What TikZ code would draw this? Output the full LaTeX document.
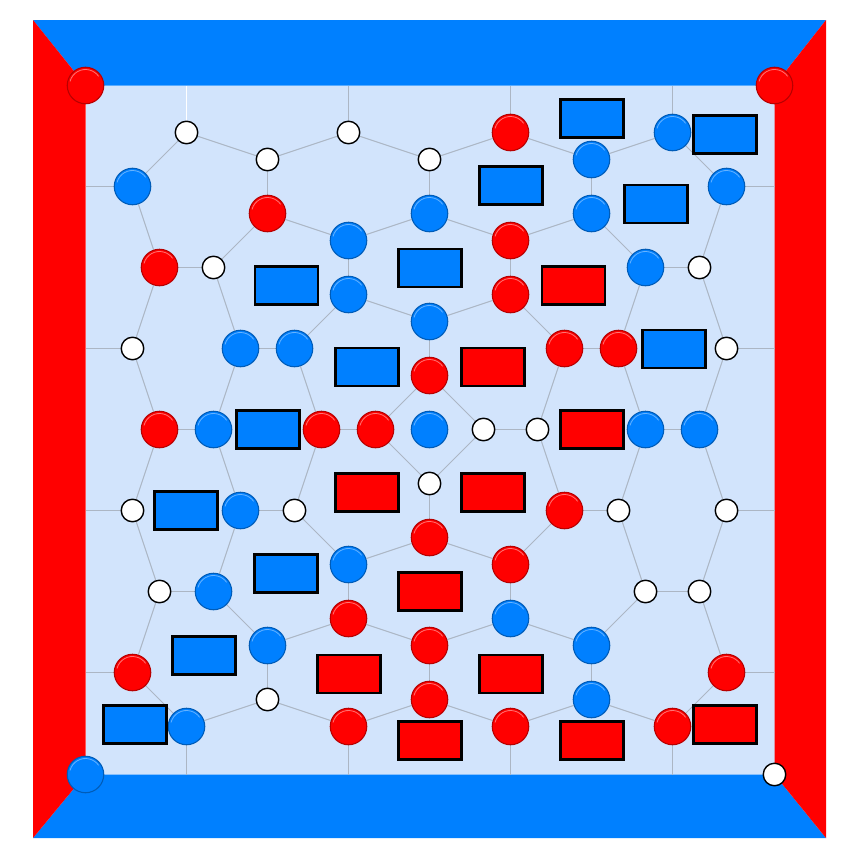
\documentclass[tikz,border=0pt]{standalone}
\usetikzlibrary{backgrounds}
\definecolor{myblue}{RGB}{0,128,255}
\definecolor{myred}{RGB}{255,0,0}
\definecolor{bgblue}{RGB}{210,228,252}
\definecolor{edgegray}{RGB}{172,182,196}
\begin{document}
\begin{tikzpicture}[x=1pt,y=-1pt,
  edge/.style={draw=edgegray,line width=1pt},
  wedge/.style={draw=white,line width=1.3pt},
  rn/.style={circle,minimum size=36.5pt,inner sep=0pt,fill=myred,draw=myred!72!black,line width=1.1pt,
    path picture={\draw[white!45!myred,line width=0.8pt] (path picture bounding box.center) ++(165:16pt) arc[start angle=165,end angle=35,radius=16pt];}},
  bn/.style={circle,minimum size=36.5pt,inner sep=0pt,fill=myblue,draw=myblue!72!black,line width=1.1pt,
    path picture={\draw[white!40!myblue,line width=0.8pt] (path picture bounding box.center) ++(165:16pt) arc[start angle=165,end angle=35,radius=16pt];}},
  wn/.style={circle,minimum size=22.5pt,inner sep=0pt,fill=white,draw=black,line width=1.4pt},
  brect/.style={rectangle,minimum width=63pt,minimum height=38pt,inner sep=0pt,fill=myblue,draw=black,line width=2.8pt},
  rrect/.style={rectangle,minimum width=63pt,minimum height=38pt,inner sep=0pt,fill=myred,draw=black,line width=2.8pt}]
\useasboundingbox (0,0) rectangle (862,862);
% frame
\begin{scope}[on background layer]
\fill[bgblue] (85.5,85.5) rectangle (774.5,774.5);
\fill[myblue] (33,20) -- (826,20) -- (774.5,85.5) -- (85.5,85.5) -- cycle;
\fill[myblue] (33,838) -- (826,838) -- (774.5,774.5) -- (85.5,774.5) -- cycle;
\fill[myred] (33,20) -- (85.5,85.5) -- (85.5,774.5) -- (33,838) -- cycle;
\fill[myred] (826,20) -- (774.5,85.5) -- (774.5,774.5) -- (826,838) -- cycle;
\end{scope}
% lattice nodes
\begin{scope}[shift={(429.5,429.5)},x=27pt,y=-27pt]
\foreach \i/\j in {-9/-11,-3/-11,-6/-10,0/-10,-8/-6,10/-6,-11/-3,11/-3,2/0,4/0,0/2,-11/3,-5/3,7/3,11/3,-10/6,8/6,10/6,-6/10}
  \node[wn] (n\i_\j) at (\i,\j) {};
\foreach \i/\j in {3/-11,-6/-8,3/-7,-10/-6,3/-5,5/-3,7/-3,0/-2,-10/0,-4/0,-2/0,0/4,5/3,3/5,-3/7,0/8,-11/9,11/9,0/10,-3/11,3/11,9/11}
  \node[rn] (n\i_\j) at (\i,\j) {};
\foreach \i/\j in {9/-11,6/-10,-11/-9,11/-9,0/-8,6/-8,-3/-7,8/-6,-3/-5,0/-4,-7/-3,-5/-3,-8/0,0/0,8/0,10/0,-7/3,-3/5,-8/6,3/7,-6/8,6/8,6/10,-9/11}
  \node[bn] (n\i_\j) at (\i,\j) {};
% border points
\foreach \k in {-9,-3,3,9} {
  \coordinate (top\k) at (\k,-12.74);
  \coordinate (bot\k) at (\k,12.78);
  \coordinate (lft\k) at (-12.74,\k);
  \coordinate (rgt\k) at (12.78,\k);
}
\end{scope}
% corner circles
\node[rn] (cTL) at (85.5,85.5) {};
\node[rn] (cTR) at (774.5,85.5) {};
\node[bn] (cBL) at (85.5,774.5) {};
\node[wn] (cBR) at (774.5,774.5) {};
% edges
\begin{scope}[on background layer]
\foreach \a/\b in {-9_-11/-6_-10,-9_-11/-11_-9,-11_-9/-10_-6,-10_-6/-8_-6,-8_-6/-6_-8,-6_-8/-6_-10,
  -6_-10/-3_-11,-6_-8/-3_-7,-8_-6/-7_-3,-10_-6/-11_-3,-3_-11/0_-10,0_-10/3_-11,0_-10/0_-8,
  3_-11/6_-10,0_-8/-3_-7,0_-8/3_-7,-3_-7/-3_-5,3_-7/3_-5,3_-7/6_-8,-3_-5/0_-4,3_-5/0_-4,
  -3_-5/-5_-3,3_-5/5_-3,6_-10/9_-11,6_-10/6_-8,9_-11/11_-9,6_-8/8_-6,8_-6/10_-6,10_-6/11_-9,
  8_-6/7_-3,10_-6/11_-3,-11_-3/-10_0,-10_0/-8_0,-8_0/-7_-3,-7_-3/-5_-3,-5_-3/-4_0,-10_0/-11_3,
  -8_0/-7_3,-7_3/-5_3,-4_0/-5_3,0_-4/0_-2,0_-2/-2_0,0_-2/2_0,-4_0/-2_0,-2_0/0_2,2_0/0_2,
  2_0/4_0,0_2/0_4,4_0/5_-3,4_0/5_3,5_-3/7_-3,7_-3/8_0,8_0/10_0,11_-3/10_0,8_0/7_3,10_0/11_3,
  5_3/7_3,-11_3/-10_6,-7_3/-8_6,-10_6/-8_6,-10_6/-11_9,-8_6/-6_8,-11_9/-9_11,-6_8/-6_10,
  -6_8/-3_7,-6_10/-9_11,-6_10/-3_11,-3_5/-3_7,-3_5/0_4,0_4/3_5,3_5/3_7,-3_5/-5_3,3_5/5_3,
  -3_7/0_8,3_7/0_8,3_7/6_8,0_8/0_10,0_10/-3_11,0_10/3_11,3_11/6_10,7_3/8_6,11_3/10_6,
  8_6/10_6,8_6/6_8,10_6/11_9,6_8/6_10,6_10/9_11,11_9/9_11}
  \draw[edge] (n\a) -- (n\b);
\draw[wedge] (n-9_-11) -- (top-9);
\foreach \k in {-3,3,9} \draw[edge] (n\k_-11) -- (top\k);
\foreach \k in {-9,-3,3,9} {
  \draw[edge] (n\k_11) -- (bot\k);
  \draw[edge] (n-11_\k) -- (lft\k);
  \draw[edge] (n11_\k) -- (rgt\k);
}
\end{scope}
% blue rectangles
\node[brect] (b1) at (592,118.8) {};
\node[brect] (b2) at (725,134.7) {};
\node[brect] (b3) at (510.8,185.8) {};
\node[brect] (b4) at (655.8,204) {};
\node[brect] (b5) at (430,268) {};
\node[brect] (b6) at (286.5,285.5) {};
\node[brect] (b7) at (367,367) {};
\node[brect] (b8) at (673.8,349) {};
\node[brect] (b9) at (268,429.7) {};
\node[brect] (b10) at (185.8,510.8) {};
\node[brect] (b11) at (285.8,573.7) {};
\node[brect] (b12) at (203.7,655.8) {};
\node[brect] (b13) at (135,724.7) {};
% red rectangles
\node[rrect] (r1) at (573.5,285.5) {};
\node[rrect] (r2) at (493,367) {};
\node[rrect] (r3) at (592,429.7) {};
\node[rrect] (r4) at (367,492.8) {};
\node[rrect] (r5) at (493,492.8) {};
\node[rrect] (r6) at (430,591.8) {};
\node[rrect] (r7) at (349,674) {};
\node[rrect] (r8) at (510.8,674) {};
\node[rrect] (r9) at (430,740.8) {};
\node[rrect] (r10) at (592,740.8) {};
\node[rrect] (r11) at (725,724.7) {};
\end{tikzpicture}
\end{document}
